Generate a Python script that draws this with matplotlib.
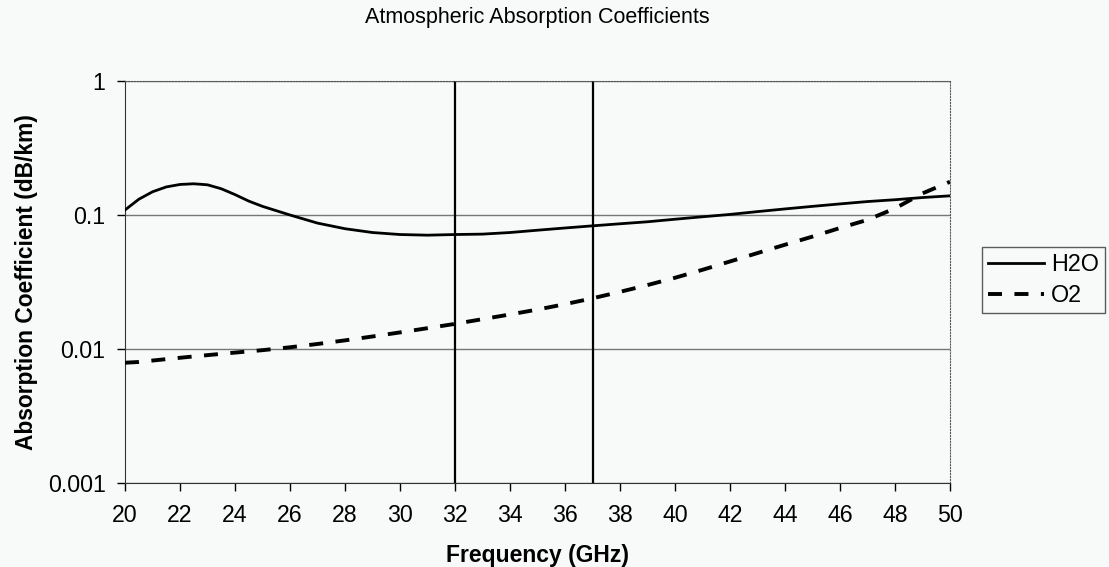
import numpy as np
import matplotlib
matplotlib.use('Agg')
from matplotlib import pyplot as plt

plt.rcParams['font.family'] = ['Liberation Sans', 'DejaVu Sans']

# 频率 (GHz)
freq = [20, 20.5, 21, 21.5, 22, 22.5, 23, 23.5, 24, 24.5, 25, 26, 27, 28, 29, 30,
        31, 32, 33, 34, 35, 36, 37, 38, 39, 40, 41, 42, 43, 44, 45, 46, 47, 48,
        49, 50]
# 水汽吸收系数
h2o = [0.109, 0.131, 0.149, 0.162, 0.169, 0.171, 0.168, 0.157, 0.142, 0.127,
       0.116, 0.100, 0.087, 0.079, 0.074, 0.0715, 0.0707, 0.0715, 0.072, 0.074,
       0.077, 0.080, 0.083, 0.086, 0.089, 0.093, 0.097, 0.101, 0.106, 0.111,
       0.116, 0.121, 0.126, 0.130, 0.135, 0.139]
# 氧气吸收系数
o2 = [0.0079, 0.0080, 0.0082, 0.0084, 0.0086, 0.0088, 0.0090, 0.0092, 0.0094,
      0.0096, 0.0098, 0.0103, 0.0109, 0.0116, 0.0124, 0.0133, 0.0143, 0.0154,
      0.0167, 0.0181, 0.0197, 0.0216, 0.0239, 0.0267, 0.030, 0.034, 0.039,
      0.045, 0.052, 0.060, 0.069, 0.080, 0.092, 0.112, 0.145, 0.177]
# 竖线位置
marks = [32, 37]

bg = '#f8faf9'
fig = plt.figure(figsize=(11.09, 5.67), dpi=100, facecolor=bg)
ax = fig.add_axes([125/1109, 1-483/567, (950-125)/1109, (483-81)/567])
ax.set_facecolor(bg)

ax.plot(freq, h2o, color='black', lw=2, label='H2O', zorder=3)
ax.plot(freq, o2, color='black', lw=2.8, ls=(0, (3.6, 3.2)), label='O2', zorder=3)
for m in marks:
    ax.axvline(m, color='black', lw=1.6, zorder=2)

ax.set_yscale('log')
ax.set_xlim(20, 50)
ax.set_ylim(0.001, 1)
ax.set_xticks(range(20, 51, 2))
ax.set_yticks([0.001, 0.01, 0.1, 1])
ax.set_yticklabels(['0.001', '0.01', '0.1', '1'])
ax.yaxis.set_minor_locator(matplotlib.ticker.NullLocator())
ax.grid(axis='y', which='major', color='#777777', lw=1)
ax.tick_params(labelsize=16.7, length=6, width=1, colors='black')
ax.tick_params(axis='x', pad=9)
ax.tick_params(axis='y', pad=8)

for s in ['top', 'right']:
    ax.spines[s].set_linestyle(':')
    ax.spines[s].set_color('#555555')
ax.spines['left'].set_color('#333333')
ax.spines['bottom'].set_color('#333333')

ax.set_xlabel('Frequency (GHz)', fontsize=16.5, fontweight='bold', labelpad=12.5)
ax.set_ylabel('Absorption Coefficient (dB/km)', fontsize=16.4, fontweight='bold', labelpad=7)
fig.text(537/1109, 1-18/567, 'Atmospheric Absorption Coefficients', fontsize=15.5,
         ha='center', va='center')

leg = ax.legend(loc='center left', bbox_to_anchor=(982/1109, 1-280/567),
                bbox_transform=fig.transFigure, fontsize=16.8, frameon=True,
                fancybox=False, edgecolor='#333333', facecolor=bg,
                handlelength=2.4, handletextpad=0.3, borderpad=0.25,
                labelspacing=0.35, borderaxespad=0)
leg.get_frame().set_linewidth(1)

plt.savefig('out.png', dpi=100, facecolor=bg)
